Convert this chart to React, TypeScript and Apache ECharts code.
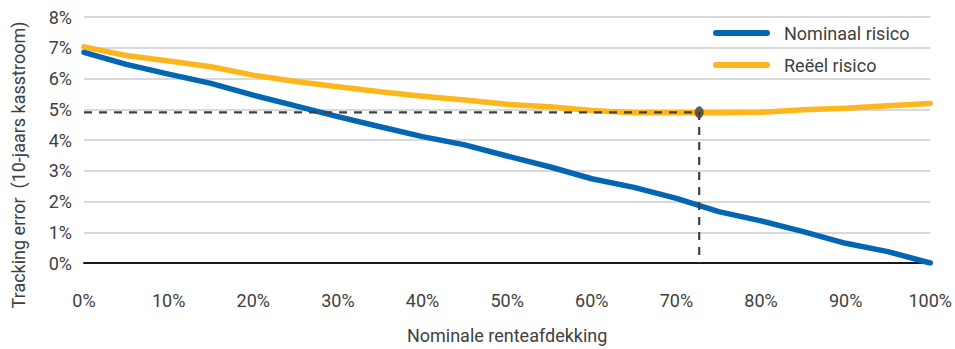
import React, { useEffect, useRef } from "react";
import * as echarts from "echarts";

// Nominal interest hedge ratio (%), sampled every 5 points
const hedgeRatio = [0, 5, 10, 15, 20, 25, 30, 35, 40, 45, 50, 55, 60, 65, 70, 75, 80, 85, 90, 95, 100];
// Tracking error (%) against the 10-year cash flow
const nominalRisk = [6.85, 6.46, 6.14, 5.84, 5.46, 5.11, 4.76, 4.43, 4.11, 3.84, 3.48, 3.13, 2.74, 2.46, 2.1, 1.67, 1.37, 1.02, 0.64, 0.37, 0.0];
const realRisk = [7.03, 6.75, 6.57, 6.38, 6.11, 5.9, 5.73, 5.57, 5.42, 5.3, 5.16, 5.08, 4.96, 4.89, 4.89, 4.89, 4.9, 4.98, 5.03, 5.11, 5.19];
// Minimum of the real-risk curve
const optimumHedge = 72.7;
const optimumError = 4.9;

const seriesNames = ["Nominaal risico", "Reëel risico"];
const xAxisTitle = "Nominale renteafdekking";
const yAxisTitle = "Tracking error  (10-jaars kasstroom)";

const BLUE = "#0366b3";
const YELLOW = "#fdb71c";
const TEXT = "#404040";
const FONT = "Roboto, 'Open Sans', sans-serif";

export default function App() {
  const ref = useRef<HTMLDivElement>(null);

  useEffect(() => {
    if (!ref.current) return;
    document.body.style.margin = "0";
    document.body.style.overflow = "hidden";
    const chart = echarts.init(ref.current, undefined, { renderer: "svg" });
    const pair = (ys: number[]) => hedgeRatio.map((x, i) => [x, ys[i]]);
    const capsule = "path://M3,0 H54 A3,3 0 0 1 54,6 H3 A3,3 0 0 1 3,0 Z";

    chart.setOption({
      animation: false,
      backgroundColor: "#ffffff",
      textStyle: { fontFamily: FONT },
      grid: { left: 84, right: 24, top: 17, bottom: 86, containLabel: false },
      legend: {
        orient: "vertical",
        left: 713,
        top: 23,
        padding: 0,
        itemWidth: 57,
        itemHeight: 6,
        itemGap: 12,
        data: [
          { name: seriesNames[0], icon: capsule },
          { name: seriesNames[1], icon: capsule },
        ],
        textStyle: { fontSize: 18, color: TEXT, fontFamily: FONT, lineHeight: 20, padding: [0, 0, 0, 9] },
      },
      xAxis: {
        type: "value",
        min: 0,
        max: 100,
        interval: 10,
        name: xAxisTitle,
        nameLocation: "middle",
        nameGap: 63,
        nameTextStyle: { fontSize: 18, color: TEXT, fontFamily: FONT },
        axisLine: { show: true, lineStyle: { color: "#1a1a1a", width: 2 } },
        axisTick: { show: false },
        axisLabel: {
          formatter: "{value}%",
          fontSize: 18,
          color: TEXT,
          margin: 28,
          fontFamily: FONT,
        },
        splitLine: { show: false },
      },
      yAxis: {
        type: "value",
        min: 0,
        max: 8,
        interval: 1,
        axisLine: { show: false },
        axisTick: { show: false },
        axisLabel: { formatter: "{value}%", fontSize: 18, color: TEXT, margin: 12, fontFamily: FONT, padding: [7, 0, 0, 0] },
        splitLine: { show: true, lineStyle: { color: "#d9d9d9", width: 2 } },
      },
      graphic: [
        {
          type: "text",
          x: 18,
          y: 165,
          rotation: Math.PI / 2,
          style: {
            text: yAxisTitle,
            fontSize: 18,
            fontFamily: FONT,
            fill: TEXT,
            align: "center",
            verticalAlign: "middle",
          },
        },
      ],
      series: [
        {
          name: seriesNames[1],
          type: "line",
          data: pair(realRisk),
          showSymbol: false,
          symbol: "none",
          lineStyle: { color: YELLOW, width: 5.5, cap: "round", join: "round" },
          itemStyle: { color: YELLOW },
          z: 2,
        },
        {
          name: seriesNames[0],
          type: "line",
          data: pair(nominalRisk),
          showSymbol: false,
          symbol: "none",
          lineStyle: { color: BLUE, width: 5.5, cap: "round", join: "round" },
          itemStyle: { color: BLUE },
          z: 3,
        },
        {
          name: "optimum",
          type: "line",
          data: [
            [0, optimumError],
            [optimumHedge, optimumError],
            [optimumHedge, 0],
          ],
          showSymbol: false,
          symbol: "none",
          lineStyle: { color: "#404040", width: 2.2, type: [8, 7] },
          z: 4,
          silent: true,
        },
        {
          name: "optimumPoint",
          type: "scatter",
          data: [[optimumHedge, optimumError]],
          symbol: "circle",
          symbolSize: [9, 12],
          itemStyle: { color: "#3d3d3d" },
          z: 5,
          silent: true,
        },
      ],
    });

    return () => chart.dispose();
  }, []);

  return <div ref={ref} style={{ width: 955, height: 349 }} />;
}
